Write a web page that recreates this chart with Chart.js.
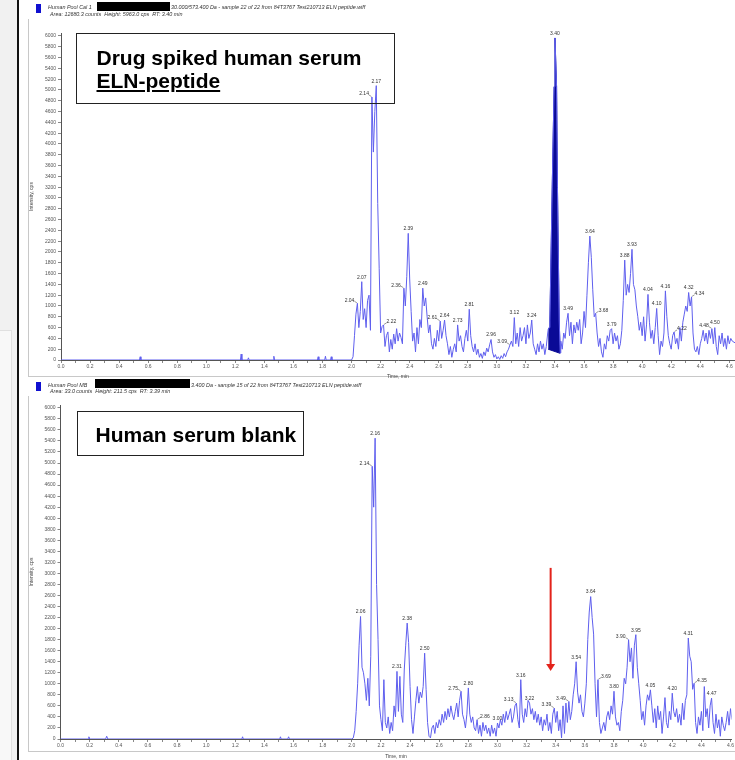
<!DOCTYPE html>
<html><head><meta charset="utf-8">
<script src="https://cdn.jsdelivr.net/npm/chart.js@4.4.1/dist/chart.umd.min.js"></script>
<style>
html,body{margin:0;padding:0;background:#fff;}
body{width:735px;height:760px;position:relative;overflow:hidden;font-family:Arial,"Liberation Sans",sans-serif;}
.strip{position:absolute;left:0;top:0;width:17px;height:760px;background:#f1f1f1;}
.strip2{position:absolute;left:0;top:330px;width:11px;height:430px;background:#f8f8f8;border-right:1px solid #e0e0e0;border-top:1px solid #e0e0e0;}
.vline{position:absolute;left:17px;top:0;width:2px;height:760px;background:#111;}
.pane{position:absolute;left:28px;width:720px;border-left:1px solid #c8c8c8;border-bottom:1px solid #c8c8c8;}
canvas{position:absolute;left:0;}
.hdr{position:absolute;font-style:italic;font-size:5.4px;color:#333;white-space:nowrap;line-height:6px;z-index:3;}
.sw{position:absolute;left:36px;width:5px;height:9px;background:#1010d0;z-index:3;}
.red{position:absolute;background:#000;z-index:3;}
.note{position:absolute;border:1.5px solid #222;background:transparent;font-weight:bold;font-size:21px;line-height:23px;color:#000;z-index:3;box-sizing:border-box;white-space:nowrap;}
</style></head>
<body>
<div class="strip"></div><div class="strip2"></div>
<div class="pane" style="top:19px;height:357px;"></div>
<div class="pane" style="top:396px;height:355px;"></div>
<canvas id="cTop" width="735" height="380" style="top:0"></canvas>
<canvas id="cBot" width="735" height="380" style="top:380px"></canvas>
<div class="vline"></div>

<div class="sw" style="top:4px"></div>
<div class="hdr" style="left:48px;top:3.6px">Human Pool Cal 1</div>
<div class="red" style="left:97px;top:2px;width:73px;height:9px"></div>
<div class="hdr" style="left:171px;top:3.6px">30.000/573.400 Da - sample 22 of 22 from 84T3767 Test210713 ELN peptide.wiff</div>
<div class="hdr" style="left:50px;top:11px">Area: 12680.3 counts &nbsp;Height: 5963.0 cps &nbsp;RT: 3.40 min</div>

<div class="sw" style="top:382px"></div>
<div class="hdr" style="left:48px;top:382px">Human Pool MB</div>
<div class="red" style="left:95px;top:379px;width:95px;height:9px"></div>
<div class="hdr" style="left:191px;top:382px">3.400 Da - sample 15 of 22 from 84T3767 Test210713 ELN peptide.wiff</div>
<div class="hdr" style="left:50px;top:388px">Area: 33.0 counts &nbsp;Height: 211.5 cps &nbsp;RT: 3.39 min</div>

<div class="note" style="left:76px;top:33px;width:319px;height:71px;padding:11.7px 0 0 19.5px">Drug spiked human serum<br><u>ELN-peptide</u></div>
<div class="note" style="left:77px;top:411px;width:227px;height:45px;padding:10.7px 0 0 17.5px">Human serum blank</div>

<script>
// ---------- data ----------
const topTrace = [
[0,0],[0.54,0],[0.545,60],[0.55,0],[1.235,0],[1.24,110],[1.245,0],[1.285,0],[1.29,40],[1.295,0],
[1.46,0],[1.465,70],[1.47,0],[1.765,0],[1.77,60],[1.775,0],[1.815,0],[1.82,70],[1.825,0],[1.855,0],[1.86,60],[1.865,0],
[2.00,0],[2.01,60],[2.02,450],[2.03,850],[2.04,1050],[2.05,600],[2.06,900],[2.07,1450],[2.08,750],[2.09,950],
[2.10,600],[2.11,1100],[2.12,1200],[2.13,550],[2.14,4870],[2.15,3850],[2.16,4600],[2.17,5080],[2.18,2900],[2.19,1700],
[2.20,500],[2.21,620],[2.22,650],[2.23,250],[2.24,450],[2.25,520],[2.26,150],[2.27,380],[2.28,200],[2.29,480],
[2.30,300],[2.31,580],[2.32,350],[2.33,500],[2.34,420],[2.35,300],[2.36,1330],[2.37,1000],[2.38,1550],[2.39,2345],
[2.40,1500],[2.41,900],[2.42,350],[2.43,500],[2.44,150],[2.45,600],[2.46,300],[2.47,750],[2.48,600],[2.49,1330],
[2.50,1000],[2.51,1150],[2.52,800],[2.53,500],[2.54,650],[2.55,300],[2.56,200],[2.57,400],[2.58,250],[2.59,550],
[2.60,350],[2.61,720],[2.62,400],[2.63,550],[2.64,740],[2.65,450],[2.66,300],[2.67,100],[2.68,250],[2.69,50],
[2.70,200],[2.71,300],[2.72,150],[2.73,650],[2.74,350],[2.75,450],[2.76,250],[2.77,150],[2.78,400],[2.79,550],
[2.80,350],[2.81,940],[2.82,450],[2.83,250],[2.84,150],[2.85,300],[2.86,100],[2.87,200],[2.88,50],[2.89,120],
[2.90,30],[2.91,150],[2.92,80],[2.93,220],[2.94,150],[2.95,280],[2.96,380],[2.97,150],[2.98,50],[2.99,100],
[3.00,20],[3.01,60],[3.02,10],[3.03,80],[3.04,30],[3.05,120],[3.06,60],[3.07,150],[3.08,200],[3.09,280],
[3.10,350],[3.11,250],[3.12,785],[3.13,300],[3.14,500],[3.15,250],[3.16,600],[3.17,350],[3.18,450],[3.19,600],
[3.20,300],[3.21,650],[3.22,400],[3.23,500],[3.24,740],[3.25,300],[3.26,200],[3.27,100],[3.28,300],[3.29,150],
[3.30,350],[3.31,200],[3.32,300],[3.33,100],[3.34,250],[3.35,500],[3.353,555],[3.36,600],[3.365,740],[3.381,3200],
[3.394,5060],[3.40,5963],[3.411,5060],[3.417,3200],[3.429,740],[3.436,130],
[3.44,350],[3.45,200],[3.46,500],[3.47,400],[3.48,700],[3.49,865],
[3.50,450],[3.51,700],[3.52,300],[3.53,650],[3.54,500],[3.55,700],[3.56,550],[3.57,750],[3.58,300],[3.59,500],
[3.60,900],[3.61,600],[3.62,1200],[3.63,1800],[3.64,2295],[3.65,1900],[3.66,1300],[3.67,800],[3.68,865],[3.69,500],
[3.70,250],[3.71,400],[3.72,150],[3.73,50],[3.74,300],[3.75,200],[3.76,450],[3.77,350],[3.78,550],[3.79,580],
[3.80,300],[3.81,500],[3.82,350],[3.83,450],[3.84,200],[3.85,300],[3.86,550],[3.87,1100],[3.88,1850],[3.89,1200],
[3.90,1400],[3.91,1250],[3.92,1600],[3.93,2050],[3.94,1400],[3.95,1300],[3.96,1000],[3.97,800],[3.98,550],[3.99,700],
[4.00,450],[4.01,800],[4.02,350],[4.03,650],[4.04,1215],[4.05,700],[4.06,400],[4.07,550],[4.08,300],[4.09,600],
[4.10,955],[4.11,450],[4.12,100],[4.13,350],[4.14,250],[4.15,500],[4.16,1280],[4.17,800],[4.18,450],[4.19,300],
[4.20,200],[4.21,450],[4.22,520],[4.23,300],[4.24,400],[4.25,200],[4.26,600],[4.27,350],[4.28,700],[4.29,850],
[4.30,1000],[4.31,900],[4.32,1250],[4.33,1000],[4.34,1170],[4.35,500],[4.36,200],[4.37,150],[4.38,250],[4.39,100],
[4.40,300],[4.41,400],[4.42,550],[4.43,350],[4.44,500],[4.45,300],[4.46,550],[4.47,400],[4.48,580],[4.49,300],
[4.50,600],[4.51,250],[4.52,100],[4.53,450],[4.54,300],[4.55,500],[4.56,250],[4.57,400],[4.58,200],[4.59,450],
[4.60,300],[4.61,400],[4.62,350],[4.65,300]
];
const topPeakTimes = [2.04,2.07,2.14,2.17,2.22,2.36,2.39,2.49,2.61,2.64,2.73,2.81,2.96,3.09,3.12,3.24,3.40,3.49,3.64,3.68,3.79,3.88,3.93,4.04,4.10,4.16,4.22,4.32,4.34,4.48,4.50];
const topLabelLeft = [2.04,2.14,2.36,2.61,3.09,4.48];
const topLabelRight = [2.22,3.68,4.22,4.34];
const topPeakWindow = [3.353,3.436];      // integrated peak, min
const topPeakBaseline = [200,123];        // integration baseline, cps

const botTrace = [
[0,0],[0.19,0],[0.195,40],[0.20,0],[0.31,0],[0.317,50],[0.325,0],[1.245,0],[1.25,40],[1.255,0],
[1.505,0],[1.51,40],[1.515,0],[1.56,0],[1.566,40],[1.572,0],
[2.00,0],[2.01,20],[2.02,150],[2.03,500],[2.04,1000],[2.05,1700],[2.06,2220],[2.07,1300],[2.08,1200],[2.09,1000],
[2.10,700],[2.11,1100],[2.12,600],[2.13,1500],[2.14,4940],[2.15,4200],[2.16,5450],[2.17,2800],[2.18,1800],[2.19,600],
[2.20,350],[2.21,150],[2.22,1075],[2.23,300],[2.24,200],[2.25,400],[2.26,100],[2.27,300],[2.28,150],[2.29,600],
[2.30,400],[2.31,1225],[2.32,500],[2.33,1135],[2.34,450],[2.35,300],[2.36,1250],[2.37,1700],[2.38,2100],[2.39,1750],
[2.40,950],[2.41,350],[2.42,100],[2.43,400],[2.44,700],[2.45,950],[2.46,650],[2.47,850],[2.48,750],[2.49,950],
[2.50,1555],[2.51,900],[2.52,300],[2.53,50],[2.54,20],[2.55,200],[2.56,250],[2.57,100],[2.58,300],[2.59,200],
[2.60,350],[2.61,250],[2.62,450],[2.63,300],[2.64,500],[2.65,350],[2.66,550],[2.67,400],[2.68,600],[2.69,450],
[2.70,350],[2.71,500],[2.72,650],[2.73,400],[2.74,700],[2.75,865],[2.76,450],[2.77,350],[2.78,200],[2.79,450],
[2.80,925],[2.81,450],[2.82,300],[2.83,400],[2.84,200],[2.85,150],[2.86,350],[2.87,100],[2.88,250],[2.89,50],
[2.90,300],[2.91,150],[2.92,250],[2.93,100],[2.94,200],[2.95,50],[2.96,250],[2.97,100],[2.98,200],[2.99,50],
[3.00,290],[3.01,200],[3.02,350],[3.03,250],[3.04,450],[3.05,300],[3.06,500],[3.07,350],[3.08,450],[3.09,550],
[3.10,300],[3.11,400],[3.12,600],[3.13,650],[3.14,350],[3.15,200],[3.16,1075],[3.17,450],[3.18,300],[3.19,550],
[3.20,400],[3.21,700],[3.22,650],[3.23,450],[3.24,550],[3.25,350],[3.26,500],[3.27,300],[3.28,450],[3.29,250],
[3.30,400],[3.31,150],[3.32,350],[3.33,250],[3.34,450],[3.35,150],[3.36,300],[3.37,100],[3.38,450],[3.39,560],
[3.40,300],[3.41,500],[3.42,150],[3.43,350],[3.44,20],[3.45,600],[3.46,100],[3.47,650],[3.48,300],[3.49,680],
[3.50,350],[3.51,500],[3.52,800],[3.53,1000],[3.54,1400],[3.55,850],[3.56,650],[3.57,800],[3.58,500],[3.59,400],
[3.60,650],[3.61,1000],[3.62,1800],[3.63,2300],[3.64,2580],[3.65,2200],[3.66,1900],[3.67,1000],[3.68,400],[3.69,1075],
[3.70,300],[3.71,100],[3.72,200],[3.73,300],[3.74,150],[3.75,400],[3.76,500],[3.77,350],[3.78,600],[3.79,450],
[3.80,865],[3.81,400],[3.82,250],[3.83,300],[3.84,150],[3.85,500],[3.86,700],[3.87,1100],[3.88,1000],[3.89,1300],
[3.90,1800],[3.91,1400],[3.92,1650],[3.93,1100],[3.94,1700],[3.95,1890],[3.96,1300],[3.97,1000],[3.98,700],[3.99,350],
[4.00,500],[4.01,250],[4.02,600],[4.03,800],[4.04,700],[4.05,890],[4.06,600],[4.07,300],[4.08,550],[4.09,200],
[4.10,600],[4.11,350],[4.12,500],[4.13,100],[4.14,400],[4.15,750],[4.16,300],[4.17,200],[4.18,500],[4.19,350],
[4.20,830],[4.21,500],[4.22,400],[4.23,550],[4.24,300],[4.25,450],[4.26,250],[4.27,650],[4.28,350],[4.29,700],
[4.30,800],[4.31,1830],[4.32,1500],[4.33,1400],[4.34,900],[4.35,1010],[4.36,300],[4.37,100],[4.38,400],[4.39,250],
[4.40,500],[4.41,150],[4.42,950],[4.43,400],[4.44,550],[4.45,200],[4.46,600],[4.47,740],[4.48,300],[4.49,100],
[4.50,450],[4.51,200],[4.52,350],[4.53,50],[4.54,400],[4.55,250],[4.56,150],[4.57,300],[4.58,500],[4.59,250],
[4.60,550],[4.61,350],[4.62,600]
];
const botPeakTimes = [2.06,2.14,2.16,2.31,2.38,2.50,2.75,2.80,2.86,3.00,3.13,3.16,3.22,3.39,3.49,3.54,3.64,3.69,3.80,3.90,3.95,4.05,4.20,4.31,4.35,4.47];
const botLabelLeft = [2.14,2.75,3.13,3.39,3.49,3.90];
const botLabelRight = [2.86,3.69,4.35];
const botArrow = {t:3.365, from:3100, to:1230};  // red marker at expected RT

const xTickLabels = ['0.0','0.2','0.4','0.6','0.8','1.0','1.2','1.4','1.6','1.8','2.0','2.2','2.4','2.6','2.8','3.0','3.2','3.4','3.6','3.8','4.0','4.2','4.4','4.6'];

// ---------- styles ----------
const TRACE = '#5f5fee';
const FILL = '#0a0a96';
const FONT = 'Arial, "Liberation Sans", sans-serif';

function toXY(a){return a.map(p=>({x:p[0],y:p[1]}));}
function peakVal(trace,t){let m=0;for(const p of trace){if(Math.abs(p[0]-t)<=0.0055&&p[1]>m)m=p[1];}return m;}

const peakLabels = {
  id:'peakLabels',
  afterDatasetsDraw(chart,args,o){
    if(!o||!o.times) return;
    const {ctx,scales:{x,y}} = chart;
    ctx.save();
    ctx.font = '5px '+FONT;
    ctx.fillStyle = '#333'; ctx.strokeStyle = '#555'; ctx.lineWidth = 0.6;
    ctx.textBaseline = 'bottom';
    o.times.forEach(t=>{
      const v = peakVal(o.trace,t);
      const px = x.getPixelForValue(t), py = y.getPixelForValue(v);
      const txt = t.toFixed(2);
      if(o.left.includes(t)){
        ctx.textAlign='right'; ctx.fillText(txt,px-3,py-0.5);
        ctx.beginPath(); ctx.moveTo(px-3,py-2); ctx.lineTo(px-0.5,py-0.5); ctx.stroke();
      } else if(o.right.includes(t)){
        ctx.textAlign='left'; ctx.fillText(txt,px+3,py-0.5);
        ctx.beginPath(); ctx.moveTo(px+3,py-2); ctx.lineTo(px+0.5,py-0.5); ctx.stroke();
      } else {
        ctx.textAlign='center'; ctx.fillText(txt,px,py-2);
      }
    });
    if(o.arrow){
      const ax = x.getPixelForValue(o.arrow.t), y1 = y.getPixelForValue(o.arrow.from), y2 = y.getPixelForValue(o.arrow.to);
      ctx.strokeStyle='#e3231b'; ctx.fillStyle='#e3231b'; ctx.lineWidth=2;
      ctx.beginPath(); ctx.moveTo(ax,y1); ctx.lineTo(ax,y2-6); ctx.stroke();
      ctx.beginPath(); ctx.moveTo(ax-4.5,y2-7); ctx.lineTo(ax+4.5,y2-7); ctx.lineTo(ax,y2); ctx.closePath(); ctx.fill();
    }
    ctx.restore();
  }
};

function makeChart(id,c){
  const ds=[{data:toXY(c.trace),borderColor:TRACE,borderWidth:1,pointRadius:0,tension:0,fill:false}];
  if(c.peakWindow){
    const seg=c.trace.filter(p=>p[0]>=c.peakWindow[0]-1e-9&&p[0]<=c.peakWindow[1]+1e-9);
    ds.push({data:toXY(seg),borderColor:FILL,backgroundColor:FILL,borderWidth:1,pointRadius:0,tension:0,fill:'+1'});
    ds.push({data:[{x:c.peakWindow[0],y:c.peakBaseline[0]},{x:c.peakWindow[1],y:c.peakBaseline[1]}],borderColor:FILL,borderWidth:1,pointRadius:0,fill:false});
  }
  return new Chart(document.getElementById(id),{
    type:'line',
    data:{datasets:ds},
    options:{
      responsive:false,animation:false,devicePixelRatio:1,
      layout:{padding:{left:c.padLeft,top:c.padTop,right:0,bottom:0}},
      plugins:{legend:{display:false},tooltip:{enabled:false},
        peakLabels:{times:c.peaks,left:c.left,right:c.right,trace:c.trace,arrow:c.arrow}},
      scales:{
        x:{type:'linear',min:0,max:c.xMax,
          ticks:{stepSize:0.1,includeBounds:false,autoSkip:false,maxRotation:0,font:{size:5,family:FONT},color:'#555',padding:1,
            callback:v=>{const k=Math.round(v*10);return k%2===0?xTickLabels[k/2]:'';}},
          grid:{drawOnChartArea:false,drawTicks:true,tickLength:3,color:'#888'},
          border:{display:true,color:'#555',width:1},
          title:{display:true,text:'Time, min',font:{size:5,family:FONT},color:'#444',padding:{top:1,bottom:0}},
          afterFit:s=>{s.height=c.xH;}},
        y:{min:0,max:c.yMax,
          ticks:{stepSize:200,includeBounds:false,font:{size:5,family:FONT},color:'#555',padding:2,callback:v=>String(v)},
          grid:{drawOnChartArea:false,drawTicks:true,tickLength:3,color:'#888'},
          border:{display:true,color:'#555',width:1},
          title:{display:true,text:'Intensity, cps',font:{size:5,family:FONT},color:'#444',padding:{top:2,bottom:2}},
          afterFit:s=>{s.width=c.yW;}}
      }
    },
    plugins:[peakLabels]
  });
}

makeChart('cTop',{trace:topTrace,peaks:topPeakTimes,left:topLabelLeft,right:topLabelRight,
  peakWindow:topPeakWindow,peakBaseline:topPeakBaseline,
  padLeft:27,padTop:33,yW:34,xH:20,xMax:4.639,yMax:6055});
makeChart('cBot',{trace:botTrace,peaks:botPeakTimes,left:botLabelLeft,right:botLabelRight,arrow:botArrow,
  padLeft:27,padTop:25,yW:33.5,xH:21,xMax:4.607,yMax:6051});
</script>
</body></html>
